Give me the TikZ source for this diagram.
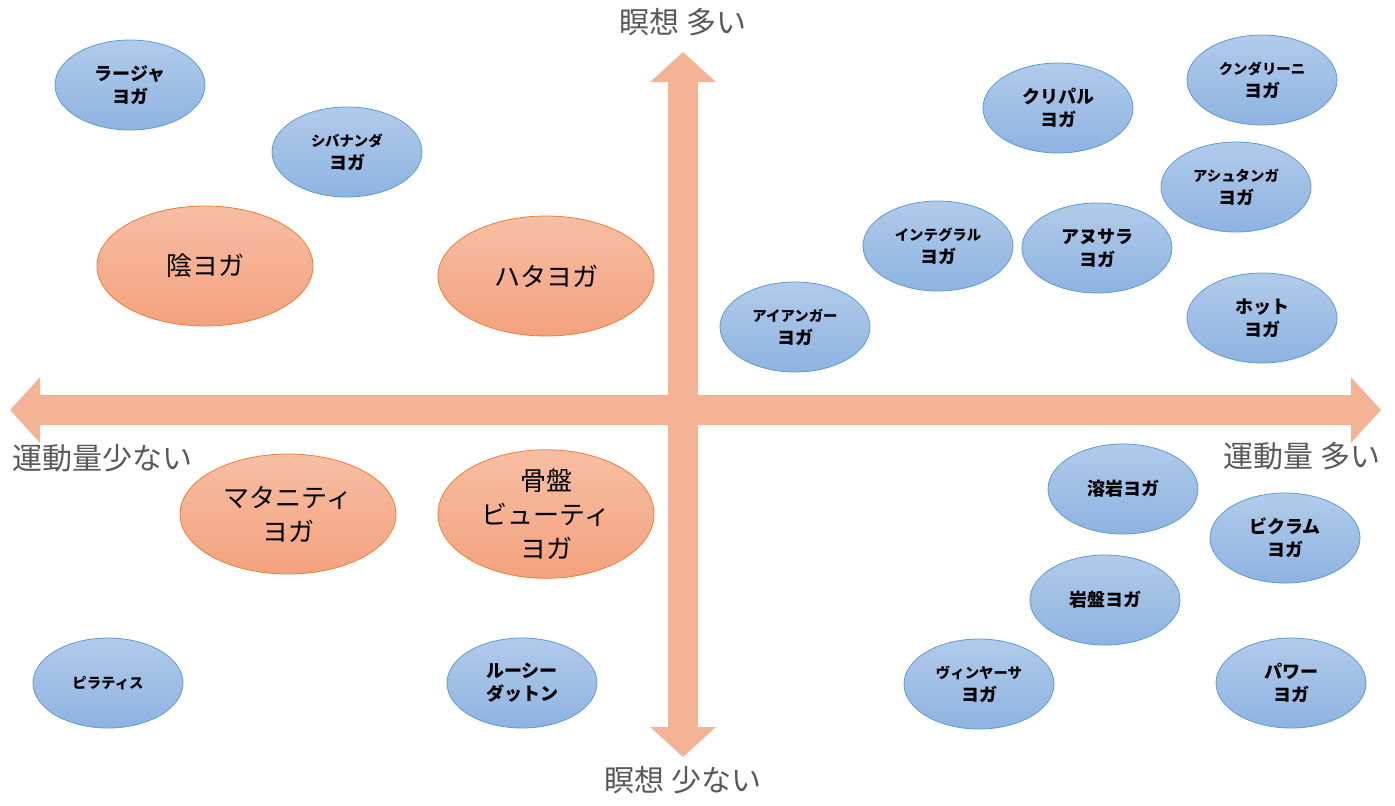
\documentclass[tikz,border=0pt]{standalone}
\usepackage{fontspec}
\setmainfont{Noto Sans CJK JP}
\usetikzlibrary{shapes.geometric,arrows.meta}

\definecolor{axisorange}{HTML}{F4B394}
\definecolor{bluetop}{HTML}{B1CBEA}
\definecolor{bluebottom}{HTML}{8EB3E1}
\definecolor{blueline}{HTML}{5B9BD5}
\definecolor{orangetop}{HTML}{F6BEA3}
\definecolor{orangebottom}{HTML}{F4A27E}
\definecolor{orangeline}{HTML}{ED7D31}
\definecolor{labelgray}{HTML}{595959}

\newcommand{\smallkana}[1]{{\fontsize{7.2pt}{8pt}\selectfont #1}}

\tikzset{
  axis/.style={draw=axisorange, line width=15pt,
    {Triangle[width=32pt,length=15pt]}-{Triangle[width=32pt,length=15pt]}},
  axislabel/.style={text=labelgray, font=\fontsize{15pt}{17pt}\selectfont, inner sep=0pt},
  blueyoga/.style={ellipse, draw=blueline, thin, top color=bluetop, bottom color=bluebottom,
    minimum width=75pt, minimum height=45pt, inner sep=0pt, align=center,
    font=\bfseries\fontsize{9pt}{11.5pt}\selectfont},
  orangeyoga/.style={ellipse, draw=orangeline, thin, top color=orangetop, bottom color=orangebottom,
    minimum width=108pt, minimum height=60pt, inner sep=0pt, align=center,
    font=\fontsize{13pt}{17pt}\selectfont}
}

\begin{document}
\begin{tikzpicture}[x=0.5pt,y=-0.5pt]

      \useasboundingbox (0,0) rectangle (1395,805);

      % axes
      \coordinate (left)   at (10,410);
      \coordinate (right)  at (1381,410);
      \coordinate (top)    at (683,52);
      \coordinate (bottom) at (683,757);

      \draw[axis] (left) -- (right);
      \draw[axis] (bottom) -- (top);

      \node[axislabel] (medhigh) at (683,22)  {瞑想 多い};
      \node[axislabel] (medlow)  at (683,780) {瞑想 少ない};
      \node[axislabel, anchor=west] (exlow)  at (12,458)   {運動量少ない};
      \node[axislabel, anchor=east] (exhigh) at (1381,456) {運動量 多い};

      % orange
      \node[orangeyoga] (yin)       at (205,266) {陰ヨガ};
      \node[orangeyoga] (hatha)     at (546,276) {ハタヨガ};
      \node[orangeyoga] (maternity) at (288,514) {マタニティ\\ヨガ};
      \node[orangeyoga] (pelvis)    at (546,514) {骨盤\\ビューティ\\ヨガ};

      % blue
      \node[blueyoga] (raja)       at (130,85)   {ラージャ\\ヨガ};
      \node[blueyoga] (sivananda)  at (347,152)  {\smallkana{シバナンダ}\\ヨガ};
      \node[blueyoga] (kripalu)    at (1058,108) {クリパル\\ヨガ};
      \node[blueyoga] (kundalini)  at (1262,80)  {\smallkana{クンダリーニ}\\ヨガ};
      \node[blueyoga] (ashtanga)   at (1236,187) {\smallkana{アシュタンガ}\\ヨガ};
      \node[blueyoga] (integral)   at (938,246)  {\smallkana{インテグラル}\\ヨガ};
      \node[blueyoga] (anusara)    at (1097,248) {アヌサラ\\ヨガ};
      \node[blueyoga] (iyengar)    at (795,327)  {\smallkana{アイアンガー}\\ヨガ};
      \node[blueyoga] (hot)        at (1262,318) {ホット\\ヨガ};
      \node[blueyoga] (lava)       at (1123,489) {溶岩ヨガ};
      \node[blueyoga] (bikram)     at (1285,538) {ビクラム\\ヨガ};
      \node[blueyoga] (bedrock)    at (1105,600) {岩盤ヨガ};
      \node[blueyoga] (vinyasa)    at (979,684)  {\smallkana{ヴィンヤーサ}\\ヨガ};
      \node[blueyoga] (power)      at (1291,683) {パワー\\ヨガ};
      \node[blueyoga] (pilates)    at (108,683)  {\smallkana{ピラティス}};
      \node[blueyoga] (ruesi)      at (522,683)  {ルーシー\\ダットン};

\end{tikzpicture}
\end{document}
